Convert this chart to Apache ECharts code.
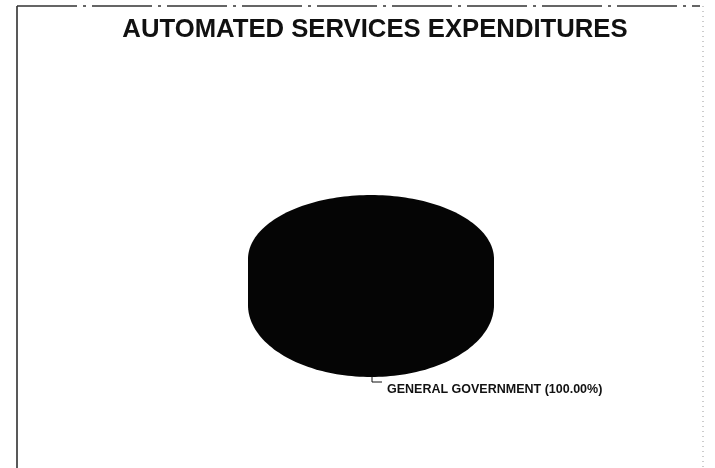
<!DOCTYPE html>
<html><head><meta charset="utf-8">
<script src="https://cdn.jsdelivr.net/npm/echarts@6/dist/echarts.min.js"></script>
<style>html,body{margin:0;padding:0;background:#fff}#c{width:715px;height:468px}</style>
</head><body><div id="c"></div>
<script>
const titleText = 'AUTOMATED SERVICES EXPENDITURES';
const categories = ['GENERAL GOVERNMENT'];
const shares = [100];

const chart = echarts.init(document.getElementById('c'), null, {renderer:'canvas'});
const total = shares.reduce((a, b) => a + b, 0);
const CX = 371, CY = 259, RX = 123, RY_TOP = 64, RY_BOT = 72, DEPTH = 46;

function arcPts(a0, a1, cy, ry) {
  const pts = [];
  const n = Math.max(2, Math.ceil(Math.abs(a1 - a0) / (Math.PI * 2) * 200));
  for (let i = 0; i <= n; i++) {
    const a = a0 + (a1 - a0) * i / n;
    pts.push([CX + RX * Math.sin(a), cy - ry * Math.cos(a)]);
  }
  return pts;
}

function renderItem(params, api) {
  const idx = params.dataIndex;
  let before = 0;
  for (let i = 0; i < idx; i++) before += shares[i];
  const v = api.value(1);
  const a0 = before / total * Math.PI * 2;
  const a1 = (before + v) / total * Math.PI * 2;
  const children = [];
  const fill = '#050505';
  if (a1 - a0 >= Math.PI * 2 - 1e-9) {
    const back = arcPts(-Math.PI / 2, Math.PI / 2, CY, RY_TOP);
    const front = arcPts(Math.PI / 2, Math.PI * 1.5, CY + DEPTH, RY_BOT);
    children.push({type: 'polygon', shape: {points: back.concat(front)}, style: {fill: fill}});
  } else {
    const s0 = Math.max(a0, Math.PI / 2), s1 = Math.min(a1, Math.PI * 1.5);
    if (s1 > s0) {
      const top = arcPts(s0, s1, CY, RY_TOP);
      const bot = arcPts(s1, s0, CY + DEPTH, RY_BOT);
      children.push({type: 'polygon', shape: {points: top.concat(bot)}, style: {fill: fill, stroke: fill}});
    }
    children.push({type: 'polygon', shape: {points: [[CX, CY]].concat(arcPts(a0, a1, CY, RY_TOP))}, style: {fill: fill, stroke: fill}});
  }
  const mid = (a0 + a1) / 2;
  const px = CX + RX * Math.sin(mid), py = CY + DEPTH - RY_BOT * Math.cos(mid);
  children.push({type: 'polyline', shape: {points: [[px + 1, py - 1], [px + 1, py + 5], [px + 11, py + 5]]}, style: {stroke: '#111', lineWidth: 1, fill: null}});
  const pct = (v / total * 100).toFixed(2);
  children.push({type: 'text', style: {x: px + 16, y: py + 13, text: api.value(0) + ' (' + pct + '%)', fill: '#111', font: 'bold 12.5px "Liberation Sans", Arial, sans-serif', verticalAlign: 'middle', align: 'left'}});
  return {type: 'group', children};
}

chart.setOption({
  animation: false,
  backgroundColor: '#fff',
  title: {
    text: titleText, left: 370, top: 12, textAlign: 'center',
    textStyle: {fontFamily: '"Liberation Sans", Arial, sans-serif', fontWeight: 'bold', fontSize: 25.7, color: '#111'}
  },
  graphic: [
    {type: 'line', shape: {x1: 17, y1: 6, x2: 17, y2: 468}, style: {stroke: '#222', lineWidth: 1.5}},
    {type: 'line', shape: {x1: 17, y1: 6, x2: 700, y2: 6}, style: {stroke: '#333', lineWidth: 1.3, lineDash: [60, 6, 3, 6]}},
    {type: 'line', shape: {x1: 703, y1: 6, x2: 703, y2: 468}, style: {stroke: '#999', lineWidth: 1, lineDash: [1, 4]}}
  ],
  series: [{
    type: 'custom',
    coordinateSystem: 'none',
    renderItem: renderItem,
    data: categories.map((c, i) => [c, shares[i]])
  }]
});
</script></body></html>
